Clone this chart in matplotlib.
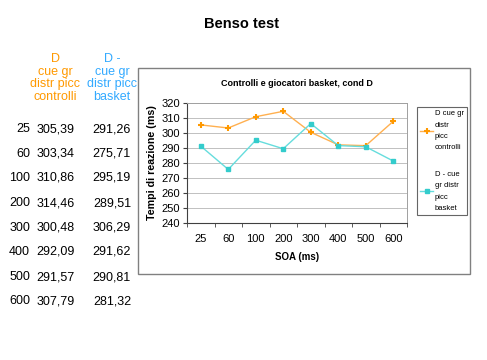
import matplotlib
matplotlib.use("Agg")
import matplotlib.pyplot as plt
from matplotlib.patches import Rectangle

plt.rcParams['font.family'] = ['Liberation Sans', 'DejaVu Sans']

soa = ["25", "60", "100", "200", "300", "400", "500", "600"]
controlli = [305.39, 303.34, 310.86, 314.46, 300.48, 292.09, 291.57, 307.79]
basket = [291.26, 275.71, 295.19, 289.51, 306.29, 291.62, 290.81, 281.32]
controlli_txt = ["305,39", "303,34", "310,86", "314,46", "300,48", "292,09", "291,57", "307,79"]
basket_txt = ["291,26", "275,71", "295,19", "289,51", "306,29", "291,62", "290,81", "281,32"]
head_controlli = "D\ncue gr\ndistr picc\ncontrolli"
head_basket = "D -\ncue gr\ndistr picc\nbasket"
leg_controlli = "D cue gr\ndistr\npicc\ncontrolli"
leg_basket = "D - cue\ngr distr\npicc\nbasket"

W, H = 487, 360
fig = plt.figure(figsize=(4.87, 3.6), dpi=100)

def fx(x):
    return x / W

def fy(y):
    return 1 - y / H

# main title
fig.text(fx(241), fy(24), "Benso test", ha="center", va="center",
         fontsize=10.5, fontweight="bold")

# data table on the left
orange_txt = "#FF9900"
blue_txt = "#33AAFF"
fig.text(fx(55), fy(78), head_controlli, ha="center", va="center",
         fontsize=9, color=orange_txt, linespacing=1.05)
fig.text(fx(112), fy(78), head_basket, ha="center", va="center",
         fontsize=9, color=blue_txt, linespacing=1.05)
row_y = [129, 154, 178, 203, 228, 252, 277, 301]
for i in range(len(soa)):
    fig.text(fx(30), fy(row_y[i]), soa[i], ha="right", va="center", fontsize=9)
    fig.text(fx(75), fy(row_y[i]), controlli_txt[i], ha="right", va="center", fontsize=9)
    fig.text(fx(131), fy(row_y[i]), basket_txt[i], ha="right", va="center", fontsize=9)

# chart frame
fig.patches.append(Rectangle((fx(138), fy(274)), fx(470) - fx(138), fy(68) - fy(274),
                             transform=fig.transFigure, fill=False,
                             edgecolor="#808080", linewidth=1.0))

ax = fig.add_axes([fx(187), fy(223), fx(407) - fx(187), fy(103) - fy(223)])
x = list(range(len(soa)))
ax.plot(x, controlli, color="#FFB050", linewidth=1.0, marker="+", markersize=4,
        markeredgewidth=1.5, markeredgecolor="#FF9900", label=leg_controlli)
ax.plot(x, basket, color="#66DDDD", linewidth=1.0, marker="s", markersize=3,
        markerfacecolor="#33CCCC", markeredgecolor="#33CCCC", label=leg_basket)

ax.set_xlim(-0.5, len(soa) - 0.5)
ax.set_ylim(240, 320)
ax.set_yticks(range(240, 321, 10))
ax.set_xticks(x)
ax.set_xticklabels(soa)
ax.set_xticks([i - 0.5 for i in range(len(soa) + 1)], minor=True)
ax.tick_params(axis="x", which="major", length=0, labelsize=8, pad=8)
ax.tick_params(axis="x", which="minor", length=3, direction="out", color="#404040")
ax.tick_params(axis="y", length=3, direction="out", labelsize=8, pad=2, color="#404040")
ax.grid(axis="y", color="#C0C0C0", linewidth=0.7)
ax.set_axisbelow(True)
for s in ["top", "right"]:
    ax.spines[s].set_color("#A0A0A0")
    ax.spines[s].set_linewidth(0.7)
for s in ["left", "bottom"]:
    ax.spines[s].set_color("#404040")
    ax.spines[s].set_linewidth(0.8)

ax.set_title("Controlli e giocatori basket, cond D", fontsize=6.5,
             fontweight="bold", pad=12)
ax.set_xlabel("SOA (ms)", fontsize=7, fontweight="bold", labelpad=6)
ax.set_ylabel("Tempi di reazione (ms)", fontsize=7.7, fontweight="bold", labelpad=3)

leg = fig.legend(loc="upper left", bbox_to_anchor=(fx(417), fy(107)),
                 fontsize=5.5, frameon=True, fancybox=False, handlelength=1.7,
                 handletextpad=0.2, labelspacing=2.6, borderpad=0.45,
                 borderaxespad=0)
leg.get_frame().set_edgecolor("#404040")
leg.get_frame().set_linewidth(0.8)
for t in leg.get_texts():
    t.set_linespacing(1.85)

fig.savefig("out.png", dpi=100)
